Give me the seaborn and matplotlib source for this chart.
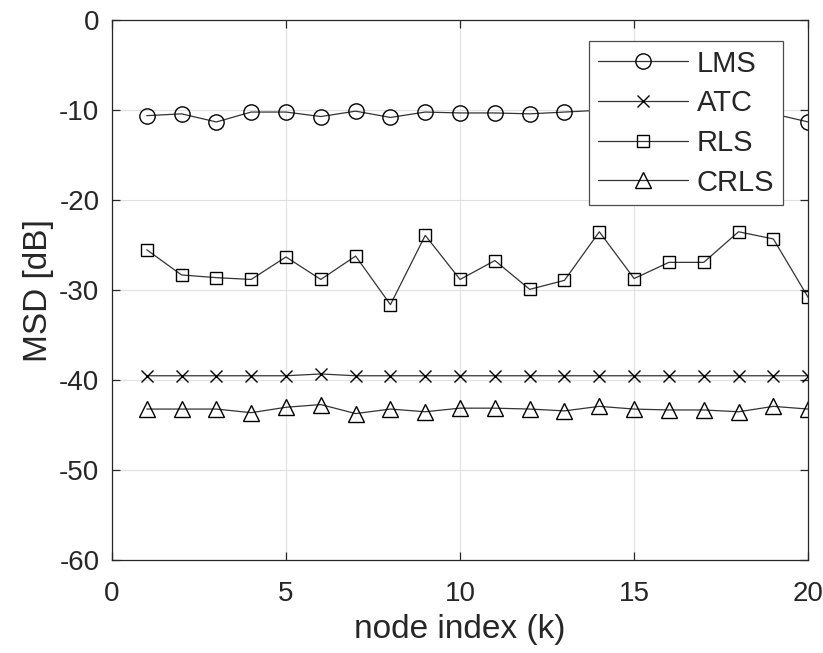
import pandas as pd
import numpy as np
import matplotlib
matplotlib.use("Agg")
import matplotlib.pyplot as plt
import seaborn as sns

nodes = list(range(1, 21))
lms = [-10.6, -10.4, -11.3, -10.2, -10.2, -10.7, -10.1, -10.8, -10.2, -10.3,
       -10.3, -10.4, -10.2, -10.0, -10.2, -10.3, -10.1, -10.2, -10.4, -11.3]
atc = [-39.5, -39.5, -39.5, -39.5, -39.5, -39.3, -39.5, -39.5, -39.5, -39.5,
       -39.5, -39.5, -39.5, -39.5, -39.5, -39.5, -39.5, -39.5, -39.5, -39.5]
rls = [-25.5, -28.3, -28.6, -28.8, -26.3, -28.8, -26.2, -31.6, -23.9, -28.8,
       -26.7, -29.9, -28.9, -23.5, -28.7, -26.9, -26.9, -23.5, -24.3, -30.8]
crls = [-43.2, -43.2, -43.2, -43.6, -43.0, -42.7, -43.7, -43.2, -43.5, -43.1,
        -43.1, -43.2, -43.4, -42.9, -43.2, -43.3, -43.3, -43.5, -42.9, -43.2]

series = {"LMS": (lms, "o", 11), "ATC": (atc, "x", 8), "RLS": (rls, "s", 9), "CRLS": (crls, "^", 12)}

sns.set_style("whitegrid")
plt.rcParams["font.family"] = ["Liberation Sans", "DejaVu Sans"]
plt.rcParams["axes.unicode_minus"] = False
plt.rcParams["text.color"] = "0.15"
plt.rcParams["axes.labelcolor"] = "0.15"
plt.rcParams["xtick.color"] = "0.15"
plt.rcParams["ytick.color"] = "0.15"

fig = plt.figure(figsize=(8.23, 6.53), dpi=100)
ax = fig.add_axes([0.136, 0.142, 0.846, 0.827])

for name, (vals, mk, ms) in series.items():
    df = pd.DataFrame({"k": nodes, "msd": vals})
    sns.lineplot(data=df, x="k", y="msd", ax=ax, color="0.2", linewidth=0.9,
                 marker=mk, markersize=ms, markerfacecolor="none",
                 markeredgecolor="black", markeredgewidth=1.0, label=name)

ax.set_xlim(0, 20)
ax.set_ylim(-60, 0)
ax.set_xticks([0, 5, 10, 15, 20])
ax.set_yticks([0, -10, -20, -30, -40, -50, -60])
ax.set_xlabel("node index (k)", fontsize=24, labelpad=5)
ax.set_ylabel("MSD [dB]", fontsize=24, labelpad=4)
ax.tick_params(labelsize=20, direction="in", length=6, width=0.9,
               top=True, right=True, left=True, bottom=True)
ax.tick_params(axis="x", pad=15)
ax.tick_params(axis="y", pad=9)
ax.grid(True, color="0.88", linewidth=0.8)
for s in ax.spines.values():
    s.set_color("0.15")
    s.set_linewidth(0.9)

leg = ax.legend(loc="upper right", bbox_to_anchor=(0.964, 0.962), fontsize=21,
                frameon=True, fancybox=False, edgecolor="0.3", framealpha=1,
                handlelength=3.1, borderpad=0.3, labelspacing=0.4, handletextpad=0.3,
                borderaxespad=0)
leg.get_frame().set_linewidth(0.9)

fig.savefig("out.png", dpi=100)
